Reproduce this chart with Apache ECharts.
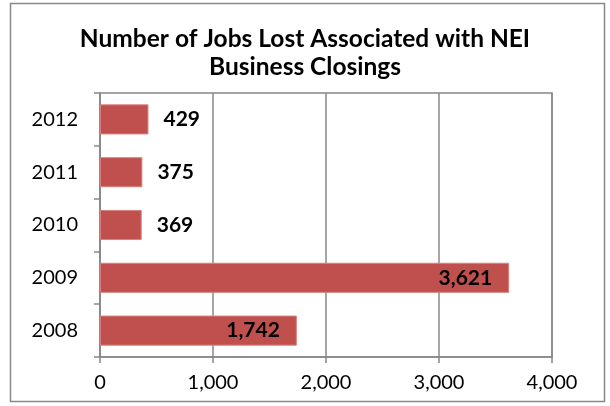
<!DOCTYPE html>
<html><head><meta charset="utf-8">
<script src="https://cdn.jsdelivr.net/npm/echarts@6/dist/echarts.min.js"></script>
<style>html,body{margin:0;padding:0;background:#fff}#c{width:610px;height:406px}</style>
</head><body><div id="c"></div>
<script>
var titleText = 'Number of Jobs Lost Associated with NEI\nBusiness Closings';
var categories = ['2008', '2009', '2010', '2011', '2012'];
var jobsLost = [1742, 3621, 369, 375, 429];
var xTicks = [0, 1000, 2000, 3000, 4000];

var FONT = 'Lato, "Open Sans", sans-serif';
var chart = echarts.init(document.getElementById('c'), null, {renderer: 'canvas'});
function fmt(v){ return v.toLocaleString('en-US'); }
chart.setOption({
  animation: false,
  backgroundColor: '#fff',
  title: {
    text: titleText, left: 'center', top: 20,
    textStyle: {fontFamily: FONT, fontWeight: 'bold', fontSize: 24.5, color: '#000', lineHeight: 28}
  },
  graphic: [{
    type: 'rect', shape: {x: 10.5, y: 3.5, width: 594, height: 398},
    style: {fill: 'none', stroke: '#888', lineWidth: 1.5}, silent: true
  }],
  grid: {left: 100, right: 58, top: 93, bottom: 49, show: true, borderColor: '#888', borderWidth: 1.5, backgroundColor: 'transparent'},
  xAxis: {
    type: 'value', min: xTicks[0], max: xTicks[xTicks.length - 1], interval: xTicks[1] - xTicks[0],
    axisLine: {show: true, lineStyle: {color: '#888', width: 1.5}},
    axisTick: {show: true, length: 6, lineStyle: {color: '#888', width: 1.5}},
    splitLine: {show: true, lineStyle: {color: '#888', width: 1.5}},
    axisLabel: {fontFamily: FONT, fontSize: 20, color: '#000', margin: 16, formatter: fmt}
  },
  yAxis: {
    type: 'category', data: categories,
    axisLine: {show: true, lineStyle: {color: '#888', width: 1.5}},
    axisTick: {show: true, length: 6, lineStyle: {color: '#888', width: 1.5}},
    axisLabel: {fontFamily: FONT, fontSize: 20, color: '#000', margin: 22}
  },
  series: [{
    type: 'bar', barCategoryGap: '43%',
    data: jobsLost.map(function(v){
      return {value: v, label: {position: v > 1000 ? 'insideRight' : 'right', distance: v > 1000 ? 17 : 15}};
    }),
    itemStyle: {color: '#C0504D', borderColor: '#D7827F', borderWidth: 1},
    label: {show: true, fontFamily: FONT, fontWeight: 'bold', fontSize: 21, color: '#000',
      formatter: function(p){ return fmt(p.value); }}
  }]
});
</script></body></html>
